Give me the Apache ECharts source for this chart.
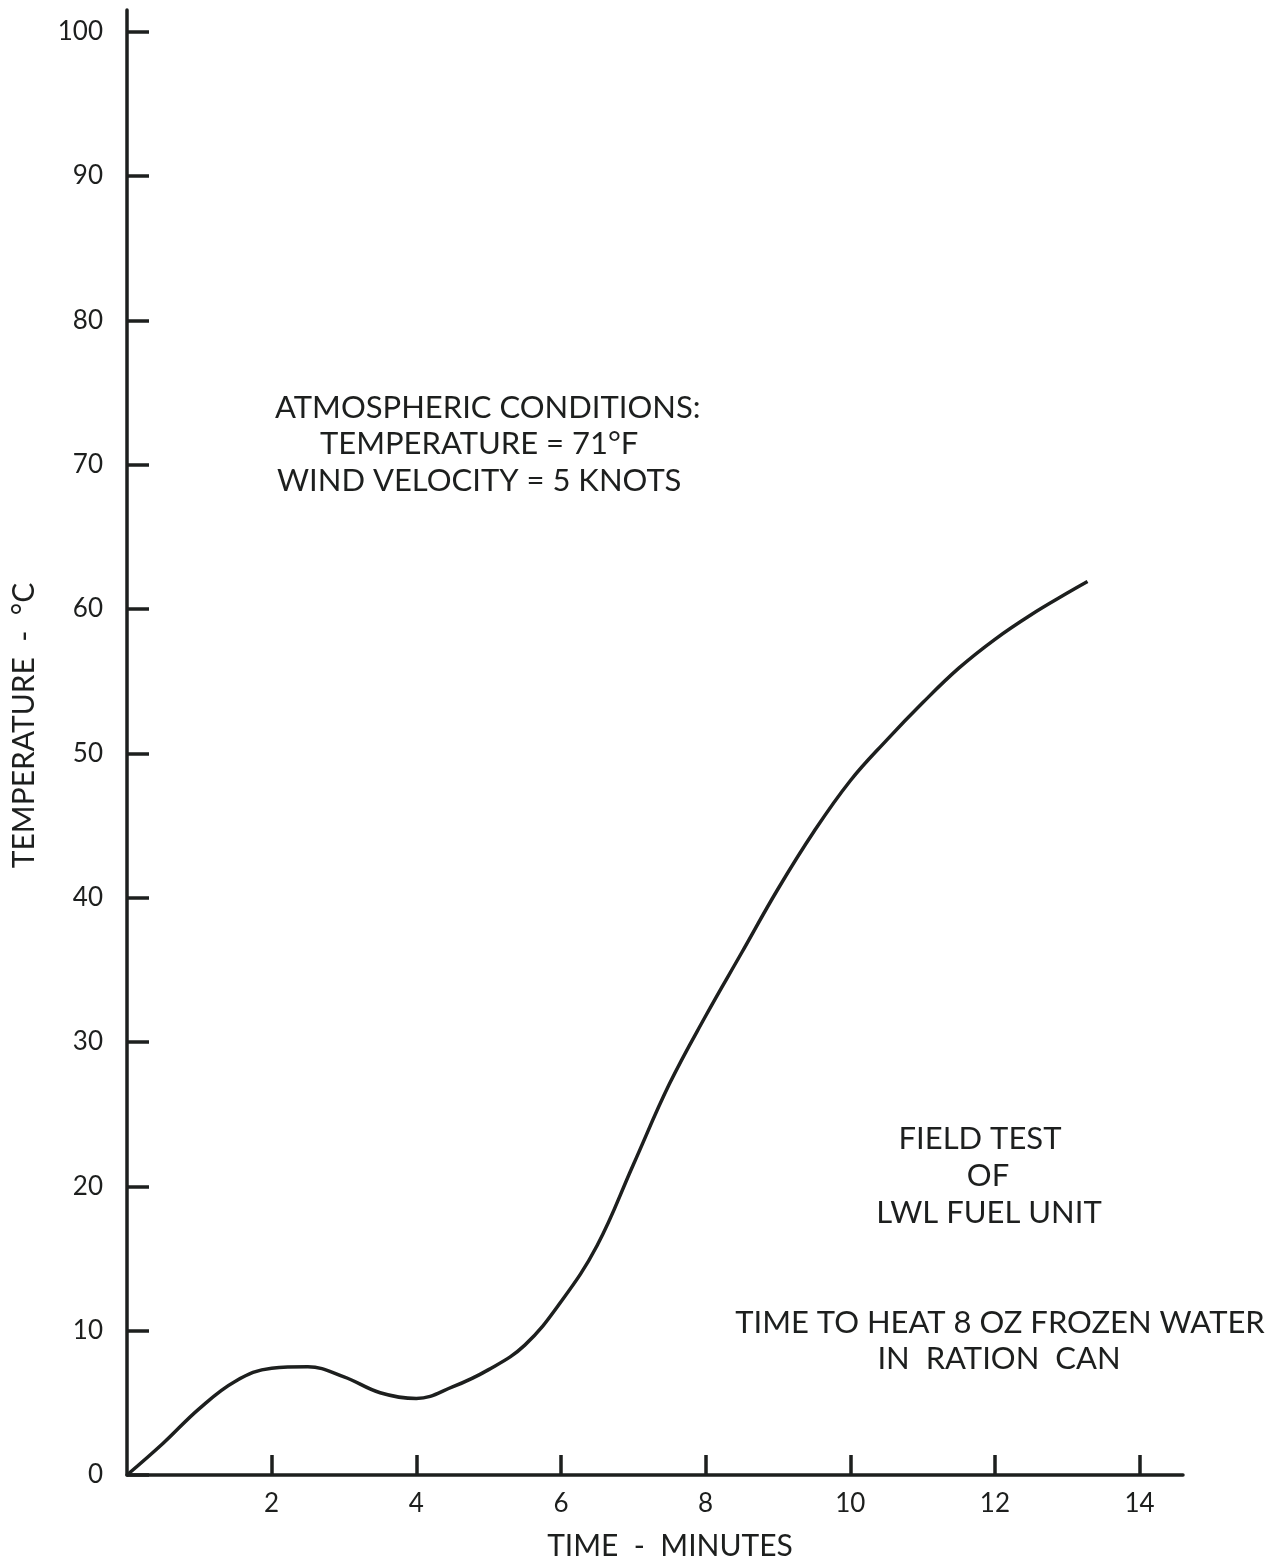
<!DOCTYPE html>
<html>
<head>
<meta charset="utf-8">
<script src="https://cdn.jsdelivr.net/npm/echarts@6/dist/echarts.min.js"></script>
<style>
  html, body { margin: 0; padding: 0; background: #ffffff; }
  #chart { width: 1277px; height: 1562px; }
</style>
</head>
<body>
<div id="chart"></div>
<script>
// Time (minutes) and water temperature (°C)
const timeMin = [0, 0.5, 1.0, 1.5, 2.0, 2.5, 3.0, 3.5, 4.0, 4.5, 5.0, 5.5, 6.0, 6.5, 7.0, 7.5, 8.0, 8.5, 9.0, 9.5, 10.0, 10.5, 11.0, 11.5, 12.0, 12.5, 13.0, 13.28];
const tempC   = [0, 2.2, 4.6, 6.5, 7.4, 7.5, 6.8, 5.7, 5.3, 6.1, 7.3, 9.0, 12.0, 15.9, 21.5, 27.1, 31.8, 36.2, 40.6, 44.6, 48.1, 50.9, 53.5, 55.9, 57.9, 59.6, 61.1, 61.9];

const xTicks = [2, 4, 6, 8, 10, 12, 14];
const yTicks = [0, 10, 20, 30, 40, 50, 60, 70, 80, 90, 100];

const xAxisTitle = 'TIME  -  MINUTES';
const yAxisTitle = 'TEMPERATURE  -  °C';
const conditionsLines = ['ATMOSPHERIC CONDITIONS:', 'TEMPERATURE = 71°F', 'WIND VELOCITY = 5 KNOTS'];
const testLines = ['FIELD TEST', 'OF', 'LWL FUEL UNIT'];
const purposeLines = ['TIME TO HEAT 8 OZ FROZEN WATER', 'IN  RATION  CAN'];

const ink = '#1d1f1e';
const font = 'Lato';
const noteFont = '31px ' + font;

const chart = echarts.init(document.getElementById('chart'), null, { renderer: 'canvas' });

const seriesData = timeMin.map((t, i) => [t, tempC[i]]);

function note(text, x, y, align) {
  return { type: 'text', x: x, y: y, silent: true,
    style: { text: text, font: noteFont, fill: ink, align: align, verticalAlign: 'middle' } };
}

chart.setOption({
  backgroundColor: '#ffffff',
  animation: false,
  grid: { left: 127, right: 94, top: 10, bottom: 87, containLabel: false, outerBoundsMode: 'none' },
  xAxis: {
    type: 'value',
    min: 0, max: 14.6,
    interval: 2,
    name: xAxisTitle,
    nameLocation: 'middle',
    nameGap: 56,
    nameTextStyle: { fontFamily: font, fontSize: 30, color: ink, padding: [0, 0, 0, 30] },
    axisLine: { show: true, lineStyle: { color: ink, width: 3.5 } },
    axisTick: { show: true, inside: true, length: 20, lineStyle: { color: ink, width: 3.5 }, customValues: xTicks },
    axisLabel: { fontFamily: font, fontSize: 26, color: ink, margin: 16, customValues: xTicks },
    splitLine: { show: false }
  },
  yAxis: {
    type: 'value',
    min: 0, max: 101.5,
    interval: 10,
    name: yAxisTitle,
    nameLocation: 'middle',
    nameGap: 88,
    nameTextStyle: { fontFamily: font, fontSize: 30, color: ink, padding: [0, 0, 0, 34] },
    axisLine: { show: true, lineStyle: { color: ink, width: 3.5 } },
    axisTick: { show: true, inside: true, length: 22, lineStyle: { color: ink, width: 3.5 }, customValues: yTicks },
    axisLabel: { fontFamily: font, fontSize: 26, color: ink, margin: 24, customValues: yTicks },
    splitLine: { show: false }
  },
  series: [{
    type: 'line',
    data: seriesData,
    smooth: 0.4,
    showSymbol: false,
    lineStyle: { color: ink, width: 3.5 },
    silent: true
  }],
  graphic: [
    note(conditionsLines[0], 275, 408, 'left'),
    note(conditionsLines[1], 320, 444, 'left'),
    note(conditionsLines[2], 277, 481, 'left'),
    note(testLines[0], 980, 1139, 'center'),
    note(testLines[1], 988, 1176, 'center'),
    note(testLines[2], 989, 1213, 'center'),
    note(purposeLines[0], 1000, 1323, 'center'),
    note(purposeLines[1], 999, 1359, 'center')
  ]
});
</script>
</body>
</html>
